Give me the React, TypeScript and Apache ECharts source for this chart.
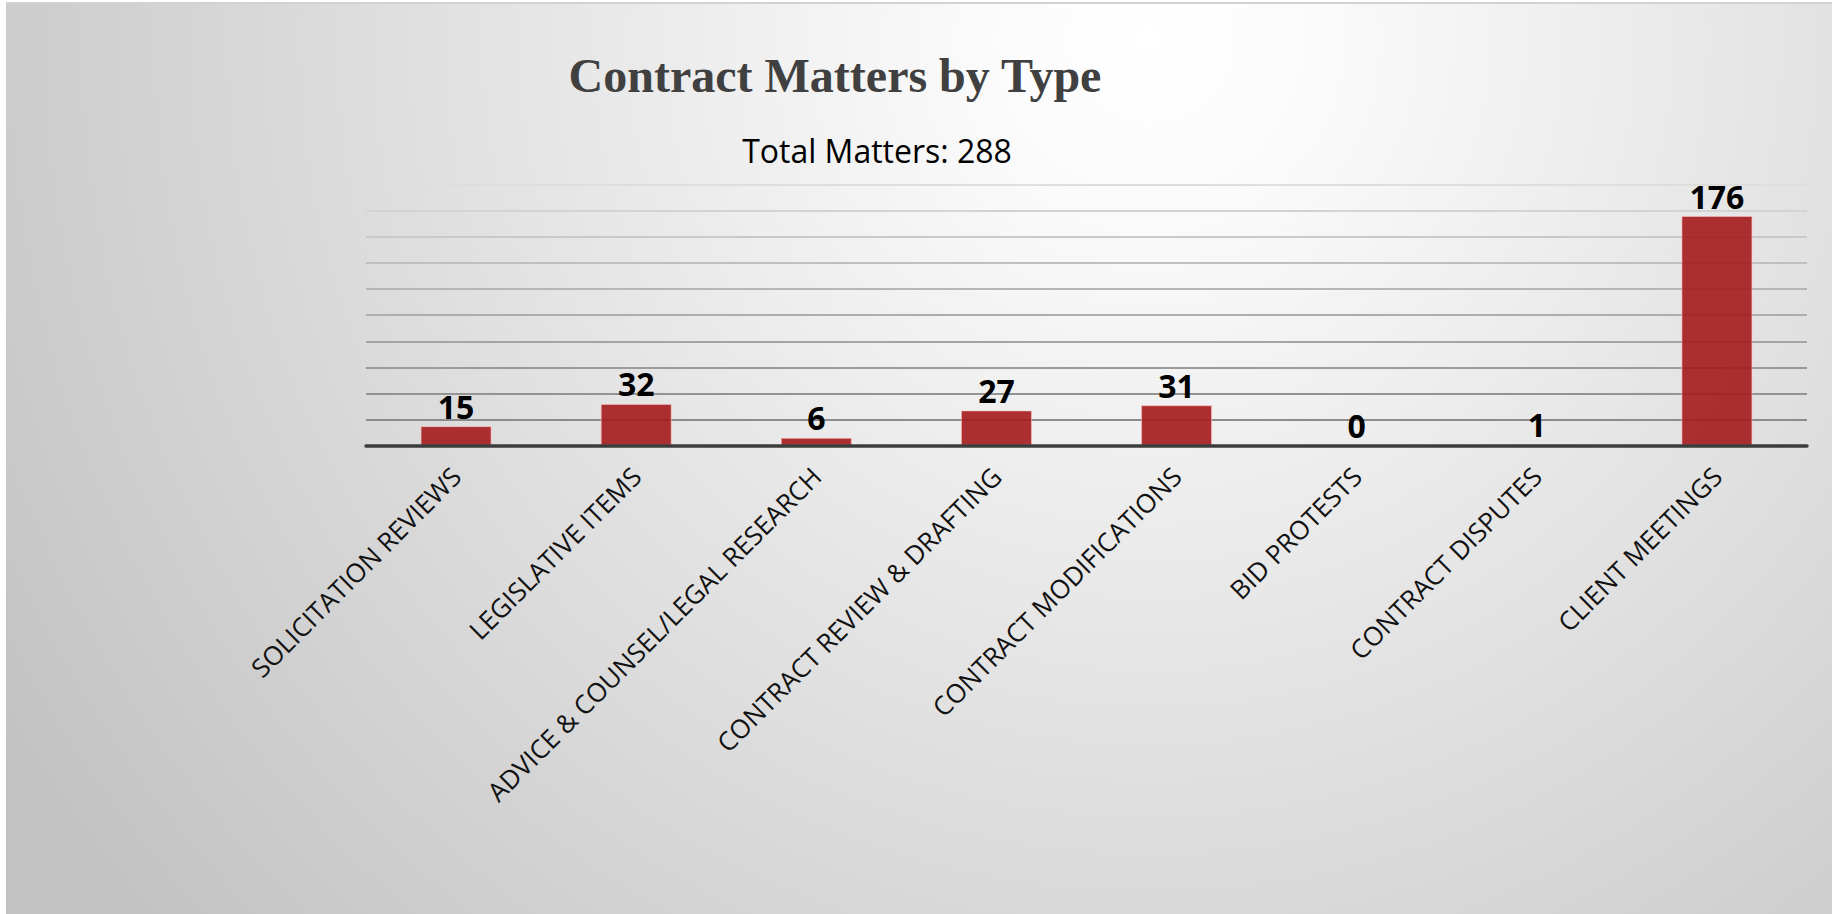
import React, { useEffect, useRef } from "react";
import * as echarts from "echarts";

const categories = [
  "SOLICITATION REVIEWS",
  "LEGISLATIVE ITEMS",
  "ADVICE & COUNSEL/LEGAL RESEARCH",
  "CONTRACT REVIEW & DRAFTING",
  "CONTRACT MODIFICATIONS",
  "BID PROTESTS",
  "CONTRACT DISPUTES",
  "CLIENT MEETINGS",
];
const matters = [15, 32, 6, 27, 31, 0, 1, 176];
const titleText = "Contract Matters by Type";
const subtitleText = "Total Matters: 288";
const gridLineColors = [
  "#888888", "#8c8c8c", "#939393", "#9b9b9b", "#a4a4a4", "#adadad",
  "#b6b6b6", "#bfbfbf", "#c9c9c9", "#d3d3d3", "#dedede",
];

export default function App() {
  const ref = useRef<HTMLDivElement>(null);
  useEffect(() => {
    if (!ref.current) return;
    const chart = echarts.init(ref.current, null, { renderer: "svg" });
    chart.setOption({
      animation: false,
      backgroundColor: "#ffffff",
      graphic: [
        {
          type: "rect",
          z: -100,
          silent: true,
          shape: { x: 6, y: 2, width: 1826, height: 912 },
          style: {
            fill: {
              type: "radial",
              x: 1150,
              y: 40,
              r: 1350,
              global: true,
              colorStops: [
                { offset: 0, color: "#ffffff" },
                { offset: 0.12, color: "#fbfbfb" },
                { offset: 1, color: "#c2c2c2" },
              ],
            },
          },
        },
        {
          type: "rect",
          z: -99,
          silent: true,
          shape: { x: 6, y: 2, width: 1826, height: 2 },
          style: { fill: "#d2d2d2" },
        },
        {
          type: "text",
          x: 835,
          y: 75,
          style: {
            text: titleText,
            font: 'bold 48px "Liberation Serif"',
            fill: "#404040",
            align: "center",
            verticalAlign: "middle",
          },
        },
        {
          type: "text",
          x: 877,
          y: 150,
          style: {
            text: subtitleText,
            font: '32px "Open Sans"',
            fill: "#000000",
            align: "center",
            verticalAlign: "middle",
          },
        },
      ],
      grid: { left: 366, right: 25, top: 184.7, bottom: 468.3 },
      xAxis: {
        type: "category",
        data: categories,
        z: 5,
        axisTick: { show: false },
        axisLine: { lineStyle: { color: "#3c3c3c", width: 3.5 } },
        axisLabel: {
          interval: 0,
          rotate: 45,
          margin: 26,
          fontSize: 26,
          fontFamily: "Open Sans",
          color: "#111111",
        },
      },
      yAxis: {
        type: "value",
        min: 0,
        max: 200,
        interval: 20,
        axisLabel: { show: false },
        axisLine: { show: false },
        axisTick: { show: false },
        splitLine: { lineStyle: { color: gridLineColors, width: 2 } },
      },
      series: [
        {
          type: "bar",
          data: matters,
          barWidth: "39.4%",
          itemStyle: {
            color: "rgba(164,25,28,0.9)",
            borderColor: "rgba(255,190,190,0.6)",
            borderWidth: 1,
          },
          label: {
            show: true,
            position: "top",
            distance: 4,
            fontSize: 32,
            fontWeight: "bold",
            fontFamily: "Open Sans",
            color: "#000000",
          },
        },
      ],
    });
    return () => chart.dispose();
  }, []);
  return (
    <div
      ref={ref}
      style={{ position: "absolute", left: 0, top: 0, width: 1832, height: 914 }}
    />
  );
}
